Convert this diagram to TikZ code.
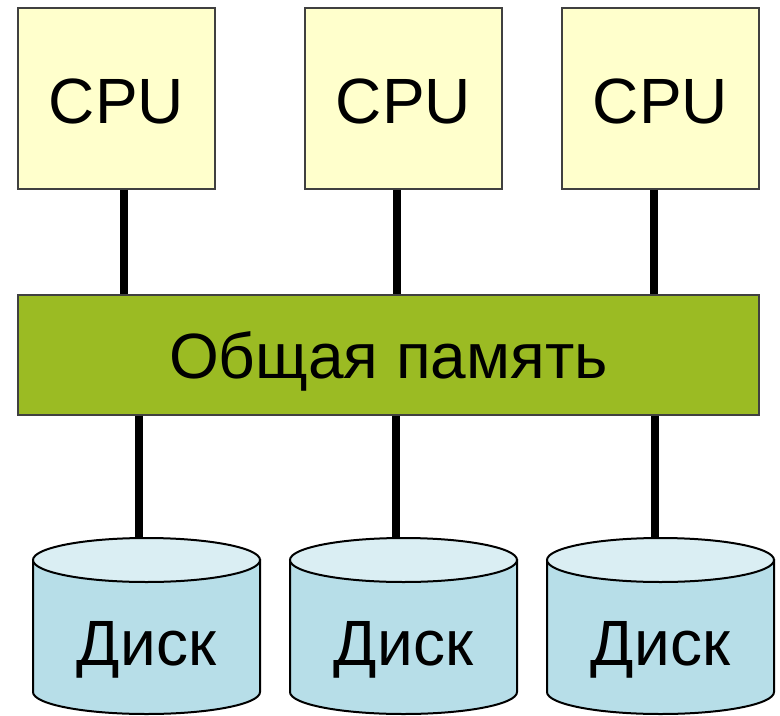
\documentclass[tikz,border=0pt]{standalone}
\usepackage{fontspec}
\setmainfont{Liberation Sans}

\definecolor{cpufill}{HTML}{FFFFCC}
\definecolor{memfill}{HTML}{9BBB23}
\definecolor{diskside}{HTML}{B7DEE8}
\definecolor{disktop}{HTML}{DAEEF3}

\begin{document}
\begin{tikzpicture}[x=0.75pt,y=0.75pt,
        every node/.style={font=\fontsize{48}{58}\selectfont, inner sep=0pt},
        cpubox/.style={draw=black!75, line width=1pt, fill=cpufill, minimum width=147.75pt, minimum height=135.75pt,
            text height=38.25pt, text depth=0pt},
        membox/.style={draw=black!75, line width=1pt, fill=memfill, minimum width=555.75pt, minimum height=90pt,
            text height=34.5pt, text depth=0pt},
        link/.style={line width=6pt},
        disk/.style={draw=black, line width=1.5pt}]
                \useasboundingbox (0,0) rectangle (780,715);
                % processors and memory
                \node[cpubox] (cpu1) at (116.5,616.5) {CPU};
                \node[cpubox] (cpu2) at (403.5,616.5) {CPU};
                \node[cpubox] (cpu3) at (660.5,616.5) {CPU};
                \node[membox] (mem) at (388.5,360) {Общая память};
                \draw[link] (cpu1.south -| 124,0) -- (mem.north -| 124,0);
                \draw[link] (cpu2.south -| 397,0) -- (mem.north -| 397,0);
                \draw[link] (cpu3.south -| 654,0) -- (mem.north -| 654,0);
                % disks
                \coordinate (top1) at (139,165);
                \coordinate (top2) at (396,165);
                \coordinate (top3) at (655,165);
                \draw[link] (mem.south -| top1) -- (top1);
                \draw[link] (mem.south -| top2) -- (top2);
                \draw[link] (mem.south -| top3) -- (top3);
                \foreach \x/\n in {146.5/1, 403.5/2, 660.5/3} {
                    \draw[disk, fill=diskside] (\x-113.5,155) -- (\x-113.5,23)
                        arc[start angle=180, end angle=360, x radius=85.125pt, y radius=16.5pt]
                        -- (\x+113.5,155) -- cycle;
                    \draw[disk, fill=disktop] (\x,155) ellipse [x radius=85.125pt, y radius=16.5pt];
                    \node[anchor=base] (disk\n) at (\x,50) {Диск};
                }
            \end{tikzpicture}
\end{document}
